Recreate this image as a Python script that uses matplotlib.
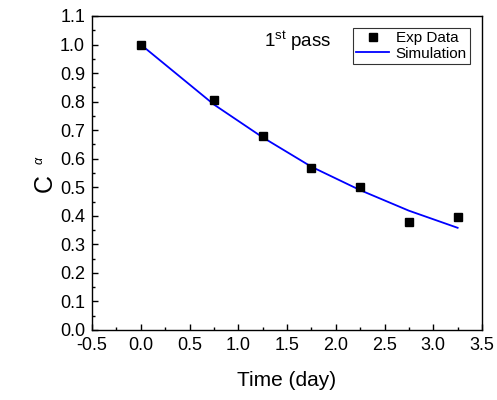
import matplotlib
matplotlib.use("Agg")
import matplotlib.pyplot as plt
from matplotlib.ticker import MultipleLocator

plt.rcParams['font.family'] = ['Liberation Sans', 'DejaVu Sans']
plt.rcParams['mathtext.fontset'] = 'custom'
plt.rcParams['mathtext.rm'] = 'Liberation Sans'
plt.rcParams['mathtext.it'] = 'Liberation Sans:italic'
plt.rcParams['axes.unicode_minus'] = False

exp_t = [0.0, 0.75, 1.25, 1.75, 2.25, 2.75, 3.25]
exp_c = [1.0, 0.805, 0.678, 0.567, 0.502, 0.378, 0.395]
sim_t = [0.0, 0.75, 1.25, 1.75, 2.25, 2.75, 3.25]
sim_c = [1.0, 0.79, 0.675, 0.572, 0.49, 0.418, 0.358]

fig = plt.figure(figsize=(4.97, 4.0), dpi=100)
ax = fig.add_axes([92/497, 1-330/400, 390/497, 314/400])

ax.plot(sim_t, sim_c, color='#0000ff', lw=1.3, label='Simulation', zorder=2)
ax.plot(exp_t, exp_c, 's', color='black', ms=5.5, label='Exp Data', zorder=3)

ax.set_xlim(-0.5, 3.5)
ax.set_ylim(0.0, 1.1)
ax.xaxis.set_major_locator(MultipleLocator(0.5))
ax.xaxis.set_minor_locator(MultipleLocator(0.25))
ax.yaxis.set_major_locator(MultipleLocator(0.1))
ax.yaxis.set_minor_locator(MultipleLocator(0.05))
ax.tick_params(which='both', direction='in', top=False, right=False, labelsize=13, width=1)
ax.tick_params(which='major', length=4.5)
ax.tick_params(which='minor', length=2.5)
ax.tick_params(axis='x', pad=5)
ax.tick_params(axis='y', pad=5)
for s in ax.spines.values():
    s.set_linewidth(1)

ax.set_xlabel('Time (day)', fontsize=15, labelpad=12)
# y label: large C with a small alpha subscript (rotated)
fig.text(45/497, 1-183/400, 'C', rotation=90, fontsize=18, ha='center', va='center')
fig.text(40/497, 1-160/400, r'$\alpha$', rotation=90, fontsize=9,
         ha='center', va='center')

ax.text(0.44, 0.90, r'1$^{\rm st}$ pass', transform=ax.transAxes, fontsize=13.5)

handles, labels = ax.get_legend_handles_labels()
leg = ax.legend(handles[::-1], labels[::-1], loc='upper right', fontsize=11,
                frameon=True, fancybox=False, edgecolor='black',
                handlelength=2.2, borderpad=0.2, labelspacing=0.1,
                handletextpad=0.4, borderaxespad=0.8)
leg.get_frame().set_linewidth(0.8)

fig.savefig('out.png', dpi=100)
